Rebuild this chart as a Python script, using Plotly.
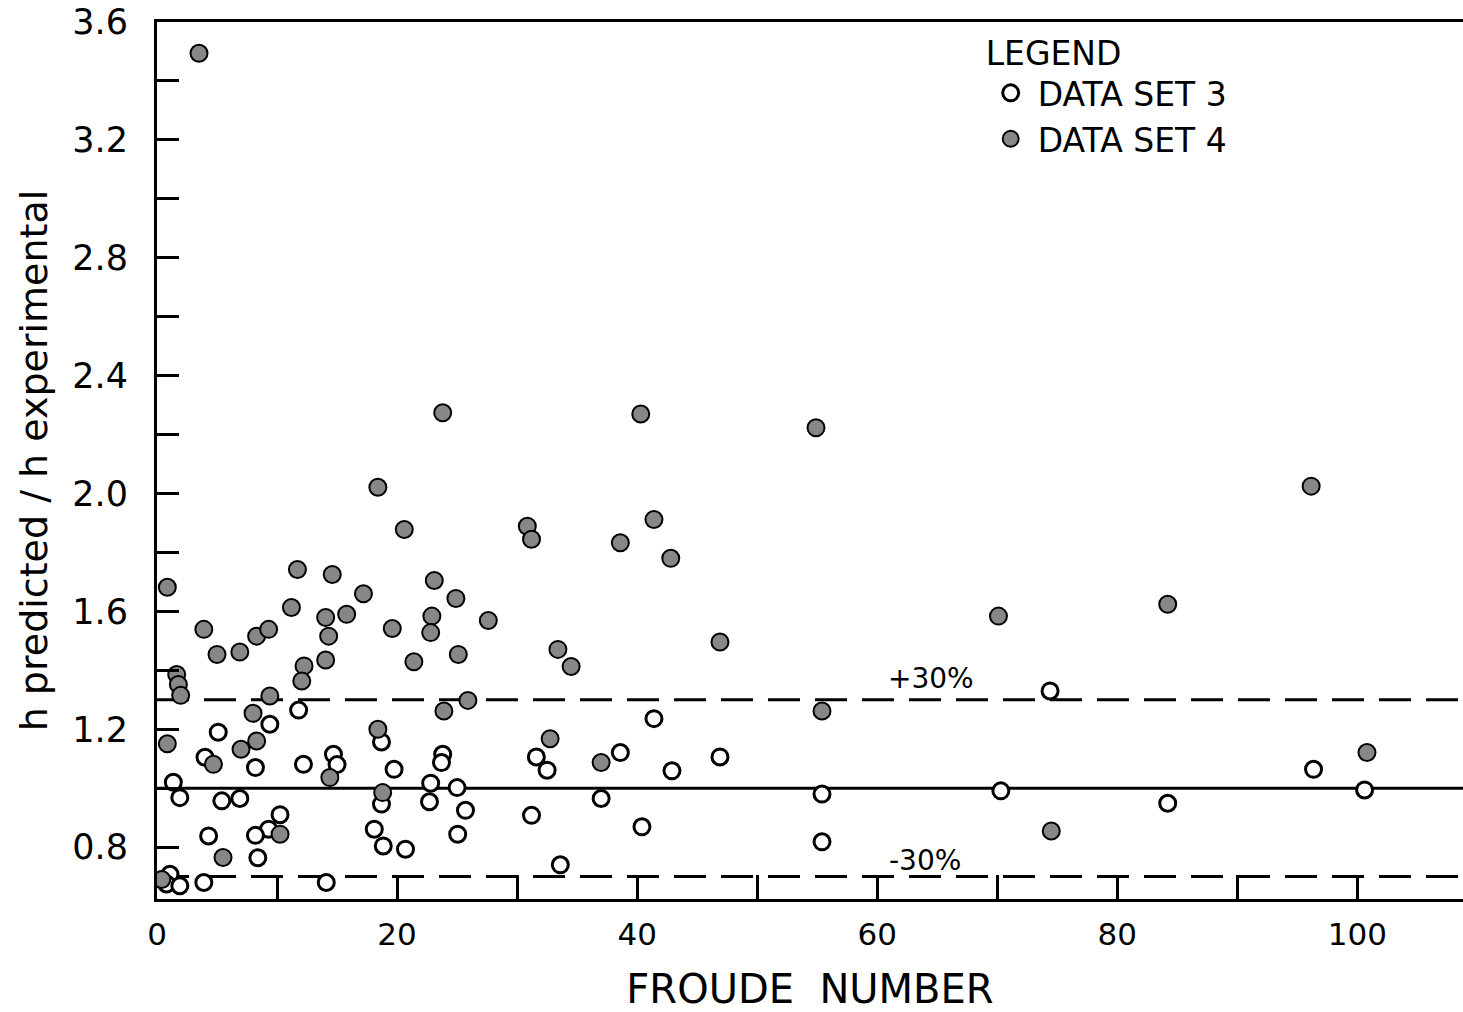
import plotly.graph_objects as go

# ---- data ----
set3_x = [11.8, 9.4, 5.1, 4.0, 14.7, 15.0, 8.2, 12.2, 1.36, 1.9, 5.4, 6.9, 10.25, 9.3, 8.2, 4.3,
          8.4, 1.08, 0.8, 1.9, 3.9, 14.1,
          18.7, 23.8, 23.7, 19.75, 22.8, 25.0, 18.7, 22.7, 25.7, 18.1, 18.85, 20.7, 25.05,
          41.4, 31.6, 32.5, 38.6, 42.9, 46.9, 37.0, 31.2, 40.4, 33.6,
          74.4, 55.4, 70.3, 84.2, 96.35, 100.6, 55.4]
set3_y = [1.265, 1.217, 1.19, 1.105, 1.115, 1.08, 1.07, 1.081, 1.02, 0.968, 0.957, 0.965, 0.91, 0.861, 0.84, 0.838,
          0.764, 0.708, 0.675, 0.669, 0.68, 0.68,
          1.157, 1.115, 1.087, 1.064, 1.017, 1.002, 0.946, 0.954, 0.925, 0.861, 0.804, 0.793, 0.844,
          1.236, 1.106, 1.061, 1.121, 1.059, 1.106, 0.965, 0.908, 0.869, 0.74,
          1.33, 0.98, 0.991, 0.949, 1.064, 0.994, 0.818]

set4_x = [0.86, 11.7, 14.6, 3.9, 11.2, 14.05, 14.3, 15.8, 5.0, 6.9, 8.3, 9.3, 12.25, 12.06, 14.05,
          1.64, 1.78, 1.97, 9.4, 8.0, 0.86, 8.3, 7.0, 4.7, 14.4, 10.25, 5.5, 0.4, 3.5,
          23.8, 18.4, 20.6, 30.85, 31.2, 17.2, 23.1, 24.9, 22.9, 22.8, 19.6, 27.6, 21.4, 25.1,
          25.9, 23.9, 18.4, 18.8,
          40.3, 41.4, 38.6, 42.8, 46.9, 33.4, 34.5, 32.75, 37.0,
          54.9, 96.15, 70.1, 84.2, 55.4, 100.8, 74.5]
set4_y = [1.682, 1.742, 1.725, 1.539, 1.613, 1.579, 1.516, 1.59, 1.454, 1.462, 1.516, 1.539, 1.415, 1.364, 1.435,
          1.386, 1.352, 1.315, 1.313, 1.254, 1.151, 1.16, 1.132, 1.081, 1.036, 0.844, 0.765, 0.69, 3.494,
          2.274, 2.021, 1.878, 1.889, 1.845, 1.66, 1.705, 1.644, 1.584, 1.528, 1.542, 1.569, 1.429, 1.454,
          1.298, 1.262, 1.2, 0.985,
          2.27, 1.912, 1.833, 1.78, 1.496, 1.471, 1.413, 1.168, 1.087,
          2.223, 2.025, 1.584, 1.624, 1.262, 1.121, 0.855]

ref_levels = [1.3, 1.0, 0.7]
ref_labels = ["+30%", None, "-30%"]
x_range = [0, 108.8]
y_range = [0.624, 3.6]
x_tickvals = [0, 20, 40, 60, 80, 100]
y_tickvals = [0.8, 1.2, 1.6, 2.0, 2.4, 2.8, 3.2, 3.6]

FONT = "DejaVu Sans"

fig = go.Figure()

# reference lines
for lvl, lab in zip(ref_levels, ref_labels):
    fig.add_trace(go.Scatter(
        x=x_range, y=[lvl, lvl], mode="lines", showlegend=False, hoverinfo="skip",
        line=dict(color="black", width=3, dash="solid" if lab is None else "32px,15px")))

fig.add_trace(go.Scatter(
    x=set3_x, y=set3_y, mode="markers", name="DATA SET 3",
    marker=dict(symbol="circle", size=16, color="white", line=dict(color="black", width=3))))
fig.add_trace(go.Scatter(
    x=set4_x, y=set4_y, mode="markers", name="DATA SET 4",
    marker=dict(symbol="circle", size=17, color="#878787", line=dict(color="black", width=2))))

fig.add_annotation(x=64.5, y=1.30, yshift=3, text="+30%", showarrow=False, yanchor="bottom",
                   font=dict(family=FONT, size=28, color="black"))
fig.add_annotation(x=64.0, y=0.70, yshift=-2, text="-30%", showarrow=False, yanchor="bottom",
                   font=dict(family=FONT, size=28, color="black"))

fig.update_layout(
    width=1463, height=1012,
    margin=dict(l=157, r=0, t=22, b=113),
    paper_bgcolor="white", plot_bgcolor="white",
    font=dict(family=FONT, color="black"),
    legend=dict(
        title=dict(text="LEGEND", font=dict(family=FONT, size=33)),
        font=dict(family=FONT, size=33),
        x=0.633, xanchor="left", y=1.0, yanchor="top", itemwidth=44,
        bgcolor="rgba(0,0,0,0)", tracegroupgap=0),
    xaxis=dict(
        range=x_range, showline=True, linecolor="black", linewidth=3, mirror=True,
        showgrid=False, zeroline=False,
        ticks="inside", ticklen=24, tickwidth=3, tickcolor="black",
        tickmode="array", tickvals=x_tickvals, ticktext=[str(v) for v in x_tickvals],
        minor=dict(dtick=10, tick0=0, ticks="inside", ticklen=24, tickwidth=3, tickcolor="black"),
        tickfont=dict(family=FONT, size=31), ticklabelstandoff=6,
        title=dict(text="FROUDE&nbsp;&nbsp;NUMBER", font=dict(family=FONT, size=40), standoff=30),
    ),
    yaxis=dict(
        range=y_range, showline=True, linecolor="black", linewidth=3,
        showgrid=False, zeroline=False,
        ticks="inside", ticklen=22, tickwidth=3, tickcolor="black",
        tickmode="array", tickvals=y_tickvals, ticktext=[f"{v:.1f}" for v in y_tickvals],
        minor=dict(dtick=0.2, tick0=0, ticks="inside", ticklen=22, tickwidth=3, tickcolor="black"),
        tickfont=dict(family=FONT, size=35), ticklabelstandoff=19,
        title=dict(text="h predicted / h experimental", font=dict(family=FONT, size=38), standoff=14),
    ),
)

fig.write_html("out.html", config={"displayModeBar": False},
               post_script="document.body.style.margin='0';")
